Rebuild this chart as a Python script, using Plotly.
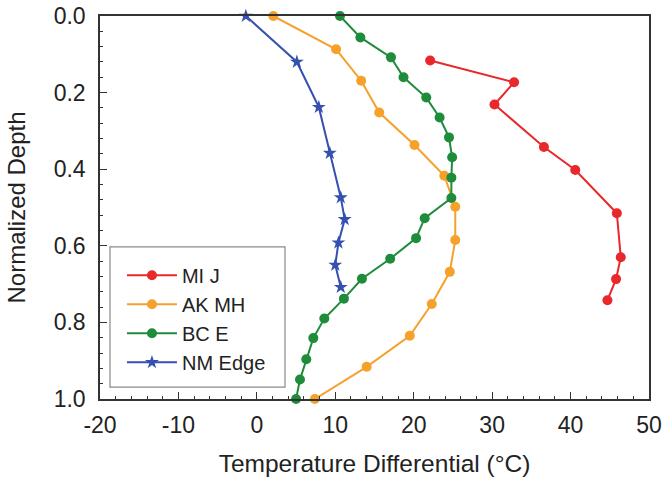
import plotly.graph_objects as go

# Temperature differential profiles versus normalized depth
mi_j_temp = [22.1, 32.8, 30.3, 36.6, 40.6, 45.9, 46.4, 45.8, 44.7]
mi_j_depth = [0.116, 0.173, 0.231, 0.342, 0.402, 0.515, 0.630, 0.687, 0.742]

ak_mh_temp = [2.1, 10.1, 13.3, 15.6, 20.1, 23.9, 25.3, 25.3, 24.6, 22.3, 19.5, 14.0, 7.4]
ak_mh_depth = [0.0, 0.087, 0.169, 0.252, 0.337, 0.417, 0.498, 0.585, 0.668, 0.752, 0.835, 0.916, 1.0]

bc_e_temp = [10.6, 13.2, 17.1, 18.7, 21.6, 23.3, 24.5, 24.9, 24.8, 24.8,
             21.4, 20.3, 17.0, 13.4, 11.1, 8.6, 7.2, 6.3, 5.5, 5.0]
bc_e_depth = [0.0, 0.056, 0.108, 0.160, 0.213, 0.265, 0.317, 0.369, 0.422, 0.475,
              0.528, 0.580, 0.634, 0.686, 0.738, 0.790, 0.841, 0.896, 0.949, 1.0]

nm_edge_temp = [-1.4, 5.1, 7.9, 9.3, 10.7, 11.2, 10.4, 10.0, 10.7]
nm_edge_depth = [0.0, 0.120, 0.238, 0.358, 0.474, 0.531, 0.592, 0.650, 0.708]

x_ticks = [-20, -10, 0, 10, 20, 30, 40, 50]
y_ticks = [0.0, 0.2, 0.4, 0.6, 0.8, 1.0]

series = [
    ("MI J", mi_j_temp, mi_j_depth, "#e8282b", "circle", 10),
    ("AK MH", ak_mh_temp, ak_mh_depth, "#f6a12c", "circle", 10),
    ("BC E", bc_e_temp, bc_e_depth, "#1e8c3a", "circle", 10),
    ("NM Edge", nm_edge_temp, nm_edge_depth, "#3550b0", "star", 10.5),
]

fig = go.Figure()
for name, xs, ys, color, symbol, size in series:
    fig.add_trace(go.Scatter(
        x=xs, y=ys, name=name, mode="lines+markers",
        line=dict(color=color, width=2),
        marker=dict(color=color, symbol=symbol, size=size, line=dict(width=0)),
        cliponaxis=False,
    ))

# frame around the legend entries
fig.add_shape(
    type="rect", xref="paper", yref="paper",
    x0=0.0182, x1=0.3370, y0=0.031, y1=0.397,
    line=dict(color="#8a8a8a", width=1.2), fillcolor="rgba(0,0,0,0)", layer="above",
)

font_family = "Liberation Sans, Arial, sans-serif"
fig.update_layout(
    width=665, height=481,
    margin=dict(l=100, r=16, t=16, b=82, autoexpand=False),
    paper_bgcolor="white", plot_bgcolor="white",
    font=dict(family=font_family, color="#222222", size=23),
    showlegend=True,
    legend=dict(
        x=0.040, y=0.374, xanchor="left", yanchor="top",
        bgcolor="rgba(0,0,0,0)", borderwidth=0,
        font=dict(size=20, color="#222222"),
        itemwidth=50,
    ),
)
fig.update_xaxes(
    range=[-20, 50], tickvals=x_ticks, ticktext=[str(v) for v in x_ticks],
    ticks="inside", ticklen=7, tickwidth=1.2, tickcolor="#333333",
    minor=dict(dtick=2, ticks="inside", ticklen=3, tickcolor="#333333", tickwidth=1),
    showgrid=False, zeroline=False, automargin=False,
    showline=True, linecolor="#333333", linewidth=1.5, mirror=True,
    title=dict(text="Temperature Differential (°C)", font=dict(size=24.5), standoff=18),
    tickfont=dict(size=23), ticklabelstandoff=5,
)
fig.update_yaxes(
    range=[1.0, 0.0], tickvals=y_ticks, ticktext=[f"{v:.1f}" for v in y_ticks],
    ticks="inside", ticklen=7, tickwidth=1.2, tickcolor="#333333",
    minor=dict(dtick=0.04, ticks="inside", ticklen=3, tickcolor="#333333", tickwidth=1),
    showgrid=False, zeroline=False, automargin=False,
    showline=True, linecolor="#333333", linewidth=1.5, mirror=True,
    title=dict(text="Normalized Depth", font=dict(size=24), standoff=21),
    tickfont=dict(size=23), ticklabelstandoff=8,
)

fig.write_html("out.html")
